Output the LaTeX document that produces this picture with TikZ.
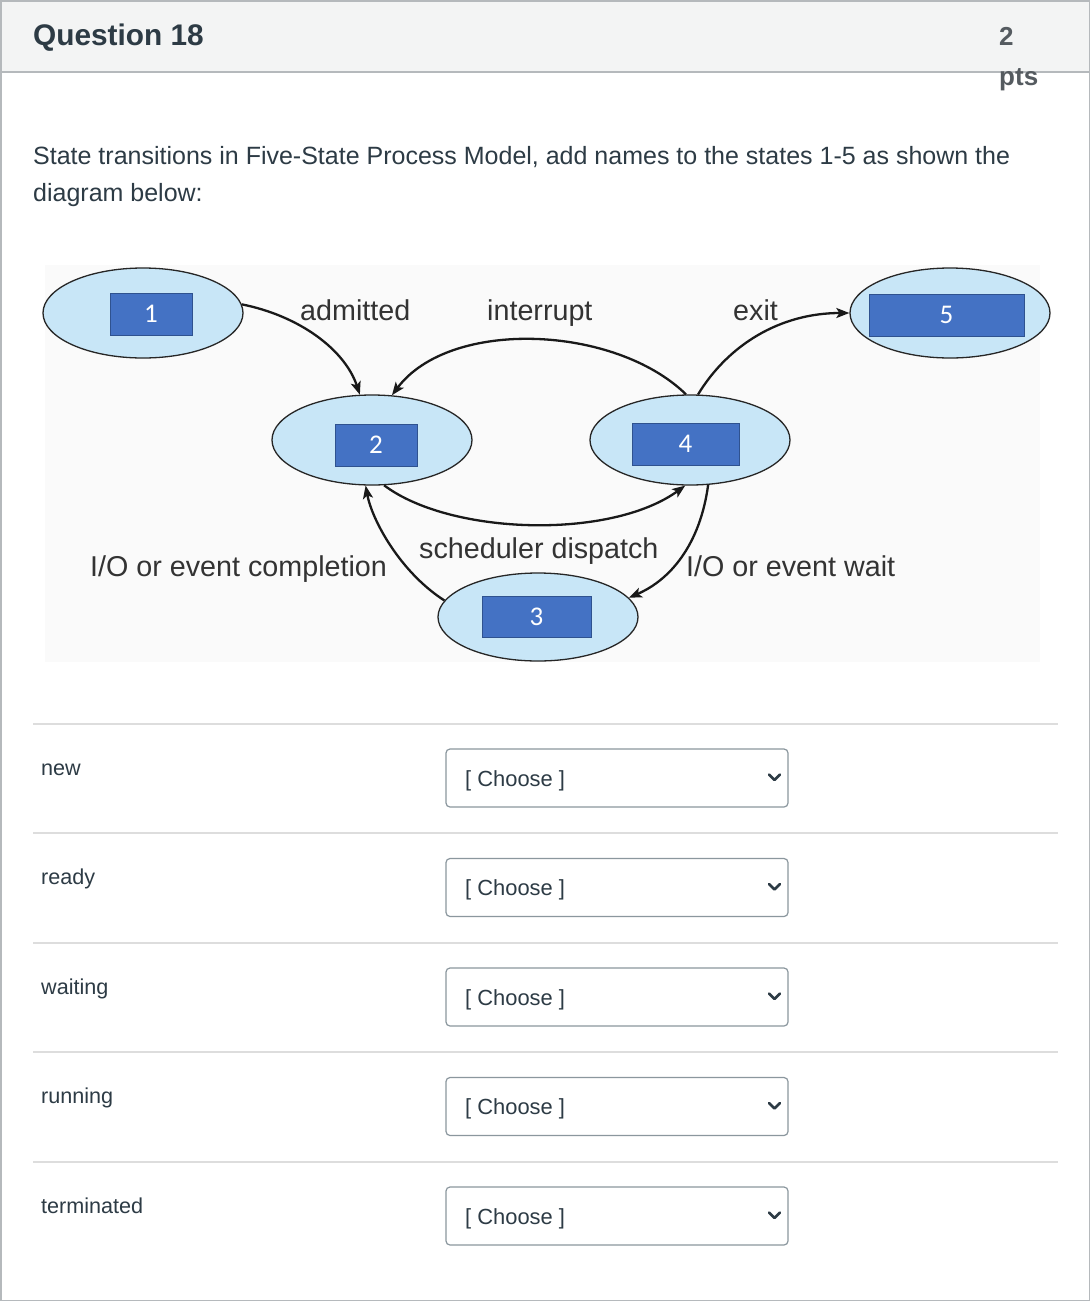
\documentclass[tikz,border=0pt]{standalone}
\usepackage{fontspec}
\setmainfont{Liberation Sans}
\newfontfamily\numfont{Carlito}
\usetikzlibrary{shapes.geometric,arrows.meta}
\definecolor{txt}{HTML}{2D3B45}
\definecolor{hdr}{HTML}{F3F4F4}
\definecolor{bord}{HTML}{B5B9BC}
\definecolor{ellfill}{HTML}{C8E6F7}
\definecolor{boxfill}{HTML}{4472C4}
\definecolor{boxline}{HTML}{2F528F}
\definecolor{rulec}{HTML}{DDDDDD}
\definecolor{selb}{HTML}{8B979E}
\definecolor{diagbg}{HTML}{FAFAFA}
\definecolor{ptsc}{HTML}{555B60}
\begin{document}
\begin{tikzpicture}[x=1pt,y=-1pt,
  state/.style={ellipse, draw=black!85, line width=1.3pt, fill=ellfill, minimum width=200pt, minimum height=90pt, inner sep=0pt},
  numbox/.style={rectangle, draw=boxline, line width=0.8pt, fill=boxfill, text=white, font=\numfont\fontsize{27}{30}\selectfont, inner sep=0pt},
  trans/.style={line width=2.3pt, draw=black!90, -{Stealth[length=13pt,width=10pt,inset=3pt]}},
  lab/.style={font=\fontsize{28.7}{32}\selectfont, text=black!80, anchor=base west, inner sep=0pt},
  body/.style={font=\fontsize{25}{29}\selectfont, text=txt, anchor=base west, inner sep=0pt},
  rowlab/.style={font=\fontsize{21.6}{25}\selectfont, text=txt, anchor=base west, inner sep=0pt},
  selbox/.style={draw=selb, line width=1.2pt, rounded corners=4pt, fill=white},
  seltext/.style={font=\fontsize{21.9}{25}\selectfont, text=txt, anchor=base west, inner sep=0pt},
  rulestyle/.style={draw=rulec, line width=1.5pt}]
\useasboundingbox (0,0) rectangle (1090,1301);
% page frame and header
\fill[white] (0,0) rectangle (1090,1301);
\fill[hdr] (0,0) rectangle (1090,72);
\draw[bord, line width=1.5pt] (0,72) -- (1090,72);
\draw[bord, line width=1.5pt] (0.75,0.75) rectangle (1089.25,1300.25);
\node[anchor=base west, inner sep=0pt, font=\bfseries\fontsize{29.8}{32}\selectfont, text=txt] (qtitle) at (33,45) {Question 18};
\node[anchor=base west, inner sep=0pt, font=\bfseries\fontsize{26}{30}\selectfont, text=ptsc] (ptsnum) at (999,45) {2};
\node[anchor=base west, inner sep=0pt, font=\bfseries\fontsize{26}{30}\selectfont, text=ptsc] (ptsword) at (999,85) {pts};
% question text
\node[body] (q1) at (33,164) {State transitions in Five-State Process Model, add names to the states 1-5 as shown the};
\node[body] (q2) at (33,201) {diagram below:};
% diagram background
\fill[diagbg] (45,265) rectangle (1040,662);
% states
\node[state] (e1) at (143,313) {};
\node[state] (e2) at (372,440) {};
\node[state] (e4) at (690,440) {};
\node[state, minimum height=88pt] (e3) at (538,617) {};
\node[state] (e5) at (950,313) {};
\node[numbox, minimum width=82pt, minimum height=42pt] (r1) at (151,314) {1};
\node[numbox, minimum width=82pt, minimum height=42pt] (r2) at (376,445) {2};
\node[numbox, minimum width=107pt, minimum height=42pt] (r4) at (685.5,444) {4};
\node[numbox, minimum width=109pt, minimum height=41pt] (r3) at (536.5,616.5) {3};
\node[numbox, minimum width=155pt, minimum height=42pt] (r5) at (946.5,315) {5};
% transitions
\draw[trans] (e1.5) .. controls (300,316) and (345,350) .. (e2.105);
\draw[trans] (e4.95) .. controls (615,325) and (450,318) .. (e2.66);
\draw[trans] (e4.80) .. controls (728,345) and (780,313) .. (e5.west);
\draw[trans] (e2.-75) .. controls (450,535) and (610,540) .. (e4.-96);
\draw[trans] (e4.-68) .. controls (700,545) and (670,580) .. (e3.12);
\draw[trans] (e3.170) .. controls (400,572) and (372,520) .. (e2.-98);
% labels
\node[lab] (ladm) at (300,320) {admitted};
\node[lab] (lint) at (487,320) {interrupt};
\node[lab] (lexit) at (733,320) {exit};
\node[lab] (lsched) at (419,558) {scheduler dispatch};
\node[lab] (lcomp) at (90,576) {I/O or event completion};
\node[lab] (lwait) at (686,576) {I/O or event wait};
% table rows
\foreach \y in {724,833,943,1052,1162}{
  \draw[rulestyle] (33,\y) -- (1058,\y);
}
\foreach \i/\dy/\t in {1/0/new, 2/109.5/ready, 3/219/waiting, 4/328.5/running, 5/438/terminated}{
  \node[rowlab] (row\i) at (41,775+\dy) {\t};
  \draw[selbox] (446,749+\dy) rectangle (788,807+\dy);
  \node[seltext] (sel\i) at (465,786+\dy) {[ Choose ]};
  \draw[txt, line width=2.6pt, line cap=round, line join=round] (769,774.5+\dy) -- (774.5,780+\dy) -- (780,774.5+\dy);
}
\end{tikzpicture}
\end{document}
